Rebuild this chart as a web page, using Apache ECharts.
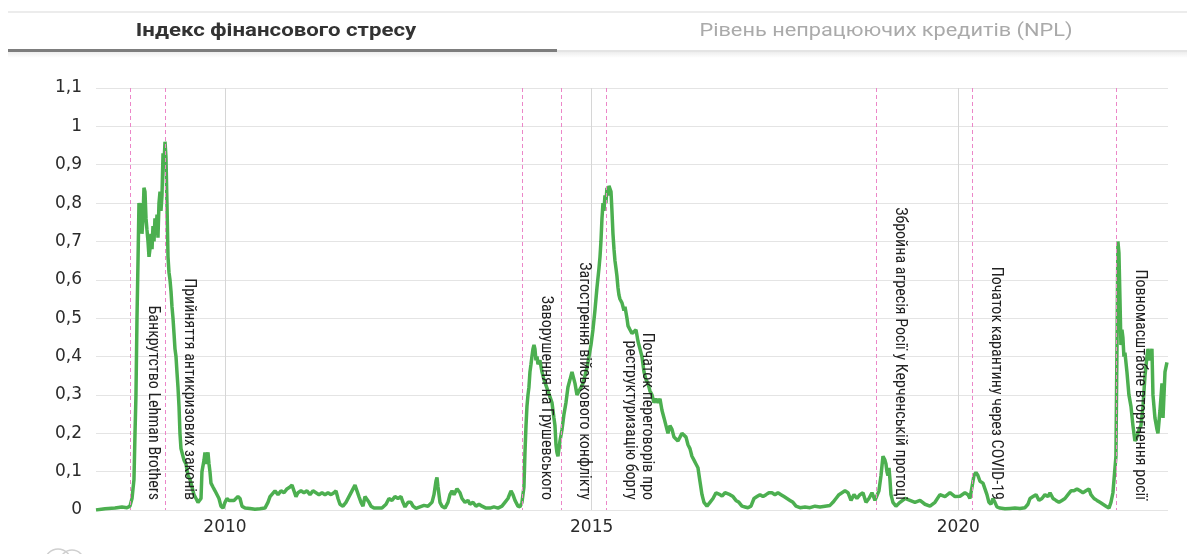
<!DOCTYPE html>
<html>
<head>
<meta charset="utf-8">
<script src="https://cdn.jsdelivr.net/npm/echarts@6/dist/echarts.min.js"></script>
<style>
html,body{margin:0;padding:0;background:#fff;}
#chart{width:1187px;height:554px;}
</style>
</head>
<body>
<div id="chart"></div>
<script>
// ---- data (decimal years, index values) ----
const dates = [
2008.241,2008.364,2008.500,2008.595,2008.664,2008.704,2008.732,2008.759,2008.773,2008.786,2008.800,2008.814,2008.827,2008.841,2008.854,2008.868,2008.882,2008.895,2008.909,2008.923,2008.936,2008.950,2008.964,2008.977,2008.991,
2009.005,2009.018,2009.032,2009.045,2009.059,2009.073,2009.086,2009.100,2009.114,2009.127,2009.141,2009.155,2009.168,2009.182,2009.195,2009.209,2009.223,2009.236,2009.250,2009.264,2009.277,2009.291,2009.305,2009.318,2009.332,2009.345,2009.359,2009.373,2009.386,2009.400,2009.414,2009.441,2009.468,2009.495,2009.523,2009.550,2009.577,2009.605,2009.632,2009.659,2009.673,2009.686,2009.714,2009.727,2009.741,2009.755,2009.768,2009.782,2009.795,2009.809,2009.836,2009.864,2009.891,2009.918,2009.945,2009.973,
2010.000,2010.027,2010.055,2010.082,2010.123,2010.150,2010.177,2010.205,2010.232,2010.273,2010.341,2010.409,2010.477,2010.545,2010.586,2010.614,2010.641,2010.682,2010.723,2010.764,2010.805,2010.845,2010.886,2010.914,2010.941,2010.968,2010.995,
2011.036,2011.077,2011.118,2011.159,2011.200,2011.241,2011.282,2011.323,2011.364,2011.405,2011.446,2011.486,2011.514,2011.541,2011.568,2011.609,2011.650,2011.691,2011.732,2011.773,2011.800,2011.827,2011.855,2011.882,2011.909,2011.936,2011.964,2011.991,
2012.032,2012.086,2012.141,2012.196,2012.236,2012.277,2012.318,2012.359,2012.400,2012.427,2012.455,2012.495,2012.536,2012.564,2012.605,2012.659,2012.714,2012.768,2012.823,2012.850,2012.877,2012.891,2012.905,2012.932,2012.959,
2013.000,2013.041,2013.068,2013.096,2013.123,2013.164,2013.205,2013.232,2013.273,2013.314,2013.341,2013.382,2013.423,2013.464,2013.505,2013.559,2013.614,2013.668,2013.723,2013.777,2013.818,2013.859,2013.900,2013.927,2013.955,2013.995,
2014.023,2014.050,2014.077,2014.091,2014.105,2014.118,2014.132,2014.145,2014.159,2014.173,2014.186,2014.200,2014.214,2014.227,2014.241,2014.255,2014.268,2014.295,2014.323,2014.350,2014.377,2014.405,2014.432,2014.459,2014.486,2014.500,2014.514,2014.527,2014.541,2014.555,2014.568,2014.596,2014.623,2014.650,2014.677,2014.705,2014.732,2014.745,2014.773,2014.800,2014.827,2014.855,2014.882,2014.909,2014.936,2014.964,2014.991,
2015.018,2015.045,2015.073,2015.100,2015.114,2015.127,2015.141,2015.155,2015.168,2015.182,2015.195,2015.209,2015.223,2015.236,2015.250,2015.264,2015.277,2015.291,2015.305,2015.318,2015.332,2015.345,2015.359,2015.373,2015.386,2015.414,2015.441,2015.455,2015.482,2015.496,2015.523,2015.550,2015.577,2015.605,2015.632,2015.659,2015.686,2015.714,2015.741,2015.768,2015.796,2015.823,2015.850,2015.877,2015.905,2015.932,2015.959,2015.987,
2016.014,2016.041,2016.068,2016.096,2016.123,2016.150,2016.177,2016.205,2016.232,2016.259,2016.287,2016.314,2016.341,2016.368,2016.396,2016.423,2016.450,2016.477,2016.505,2016.532,2016.573,2016.614,2016.655,2016.696,2016.723,2016.750,2016.778,2016.819,2016.846,2016.887,2016.928,2016.968,
2017.009,2017.050,2017.091,2017.132,2017.173,2017.214,2017.255,2017.296,2017.337,2017.378,2017.418,2017.459,2017.500,2017.541,2017.582,2017.623,2017.664,2017.705,2017.746,2017.787,2017.841,2017.910,2017.978,
2018.046,2018.114,2018.182,2018.250,2018.291,2018.332,2018.373,2018.414,2018.455,2018.496,2018.537,2018.578,2018.618,2018.659,2018.700,2018.741,2018.782,2018.823,2018.864,2018.891,2018.918,2018.946,2018.973,2018.986,
2019.000,2019.014,2019.027,2019.041,2019.055,2019.068,2019.082,2019.109,2019.150,2019.205,2019.273,2019.341,2019.409,2019.478,2019.546,2019.614,2019.682,2019.750,2019.819,2019.887,2019.955,
2020.023,2020.091,2020.132,2020.159,2020.187,2020.214,2020.241,2020.268,2020.296,2020.337,2020.364,2020.391,2020.418,2020.446,2020.473,2020.500,2020.527,2020.568,2020.637,2020.705,2020.773,2020.841,2020.910,2020.950,2020.978,
2021.019,2021.060,2021.101,2021.141,2021.182,2021.223,2021.251,2021.292,2021.332,2021.373,2021.414,2021.455,2021.496,2021.537,2021.578,2021.619,2021.660,2021.700,2021.741,2021.782,2021.809,2021.851,2021.891,2021.932,2021.973,
2022.014,2022.055,2022.082,2022.109,2022.136,2022.150,2022.164,2022.177,2022.191,2022.205,2022.218,2022.232,2022.245,2022.259,2022.273,2022.300,2022.327,2022.355,2022.382,2022.409,2022.436,2022.464,2022.491,2022.519,2022.546,2022.573,2022.587,2022.614,2022.641,2022.655,2022.682,2022.710,2022.723,2022.751,2022.778,2022.792,2022.819,2022.846
];
const stressIndex = [
0.000,0.003,0.005,0.008,0.006,0.010,0.030,0.080,0.200,0.300,0.500,0.650,0.800,0.780,0.800,0.720,0.760,0.840,0.830,0.760,0.730,0.700,0.660,0.680,0.720,
0.680,0.740,0.700,0.760,0.720,0.770,0.710,0.800,0.830,0.780,0.820,0.930,0.900,0.960,0.920,0.800,0.660,0.620,0.600,0.570,0.530,0.500,0.460,0.420,0.400,0.360,0.320,0.270,0.200,0.160,0.150,0.130,0.120,0.090,0.080,0.060,0.040,0.030,0.020,0.015,0.030,0.100,0.130,0.150,0.120,0.140,0.150,0.120,0.100,0.070,0.060,0.050,0.045,0.030,0.010,0.005,
0.020,0.030,0.025,0.030,0.025,0.030,0.035,0.030,0.010,0.005,0.004,0.002,0.003,0.005,0.020,0.035,0.040,0.050,0.040,0.050,0.045,0.055,0.060,0.065,0.050,0.035,0.045,
0.050,0.045,0.050,0.040,0.050,0.045,0.040,0.045,0.040,0.045,0.040,0.045,0.050,0.030,0.015,0.010,0.020,0.035,0.050,0.065,0.050,0.035,0.020,0.010,0.035,0.040,0.020,0.010,
0.005,0.005,0.005,0.015,0.030,0.025,0.035,0.030,0.035,0.020,0.008,0.020,0.020,0.010,0.004,0.008,0.012,0.010,0.020,0.040,0.075,0.085,0.060,0.020,0.010,
0.005,0.020,0.040,0.050,0.040,0.055,0.045,0.030,0.020,0.025,0.015,0.020,0.010,0.015,0.010,0.005,0.005,0.008,0.005,0.010,0.020,0.030,0.050,0.040,0.025,0.010,
0.008,0.020,0.060,0.150,0.220,0.270,0.300,0.320,0.360,0.380,0.400,0.420,0.430,0.420,0.390,0.400,0.380,0.390,0.360,0.340,0.340,0.310,0.310,0.280,0.240,0.220,0.170,0.150,0.140,0.160,0.180,0.210,0.250,0.280,0.320,0.340,0.360,0.355,0.330,0.300,0.310,0.320,0.330,0.350,0.370,0.400,0.430,
0.470,0.520,0.580,0.630,0.660,0.700,0.760,0.800,0.780,0.820,0.800,0.840,0.820,0.845,0.850,0.830,0.780,0.720,0.680,0.650,0.630,0.610,0.580,0.560,0.550,0.540,0.520,0.530,0.500,0.480,0.470,0.460,0.460,0.470,0.440,0.420,0.400,0.360,0.340,0.330,0.310,0.300,0.280,0.290,0.280,0.290,0.260,0.240,
0.220,0.200,0.220,0.210,0.190,0.190,0.180,0.190,0.200,0.205,0.190,0.170,0.160,0.140,0.130,0.120,0.110,0.075,0.040,0.020,0.010,0.020,0.030,0.045,0.050,0.040,0.036,0.045,0.050,0.040,0.035,0.025,
0.020,0.010,0.008,0.006,0.010,0.030,0.035,0.040,0.035,0.040,0.045,0.045,0.040,0.045,0.040,0.035,0.030,0.025,0.020,0.010,0.006,0.008,0.006,
0.010,0.008,0.010,0.012,0.020,0.030,0.040,0.045,0.050,0.045,0.025,0.040,0.030,0.040,0.045,0.020,0.030,0.045,0.025,0.020,0.050,0.090,0.140,0.145,
0.130,0.120,0.100,0.090,0.110,0.080,0.040,0.020,0.010,0.020,0.030,0.025,0.020,0.025,0.015,0.010,0.020,0.040,0.035,0.045,0.035,
0.036,0.045,0.040,0.030,0.060,0.090,0.098,0.090,0.075,0.070,0.055,0.040,0.020,0.015,0.030,0.020,0.008,0.005,0.003,0.004,0.005,0.004,0.006,0.015,0.030,
0.035,0.040,0.025,0.030,0.040,0.035,0.045,0.030,0.025,0.020,0.025,0.030,0.040,0.050,0.050,0.055,0.050,0.045,0.050,0.055,0.040,0.030,0.025,0.020,0.015,
0.010,0.005,0.020,0.045,0.050,0.140,0.420,0.700,0.670,0.550,0.430,0.470,0.450,0.400,0.410,0.360,0.300,0.270,0.220,0.180,0.190,0.210,0.220,0.270,0.350,0.400,0.420,0.390,0.420,0.300,0.240,0.210,0.200,0.260,0.330,0.240,0.360,0.385
];
const eventDates = [2008.704, 2009.182, 2014.060, 2014.582, 2015.196, 2018.887, 2020.196, 2022.160];
const eventLabels = [
  'Банкрутство Lehman Brothers',
  'Прийняття антикризових законів',
  'Заворушення на Грушевського',
  'Загострення військового конфлікту',
  'Початок переговорів про\nреструктуризацію боргу',
  'Збройна агресія Росії у Керченській протоці',
  'Початок карантину через COVID-19',
  'Повномасштабне вторгнення росії'
];
const yearTicks = [2010, 2015, 2020];
const tabLabels = ['Індекс фінансового стресу', 'Рівень непрацюючих кредитів (NPL)'];

const seriesData = dates.map((d, i) => [d, stressIndex[i]]);
const eventLines = eventDates.map((d, i) => [
  { coord: [d, 1.1], label: { formatter: eventLabels[i] } },
  { coord: [d, 0] }
]);

const chart = echarts.init(document.getElementById('chart'), null, { renderer: 'canvas' });
chart.setOption({
  animation: false,
  backgroundColor: '#ffffff',
  grid: { left: 96, right: 19, top: 88, bottom: 44, containLabel: false },
  xAxis: {
    type: 'value',
    min: 2008.241,
    max: 2022.86,
    axisLine: { show: false },
    axisTick: { show: false, customValues: yearTicks },
    axisLabel: {
      customValues: yearTicks,
      color: '#2b2b2b', fontSize: 17, margin: 9,
      fontFamily: '"DejaVu Sans", sans-serif',
      formatter: v => String(Math.round(v))
    },
    splitLine: { show: true, lineStyle: { color: '#d6d6d6', width: 1 } }
  },
  yAxis: {
    type: 'value',
    min: 0, max: 1.1, interval: 0.1,
    axisLine: { show: false },
    axisTick: { show: false },
    axisLabel: {
      color: '#2b2b2b', fontSize: 17, margin: 14,
      fontFamily: '"DejaVu Sans", sans-serif',
      formatter: v => String(Number(v.toFixed(1))).replace('.', ',')
    },
    splitLine: { lineStyle: { color: '#e4e4e4', width: 1 } }
  },
  series: [{
    type: 'line',
    data: seriesData,
    showSymbol: false,
    symbol: 'none',
    lineStyle: { color: '#4caf50', width: 3.5 },
    z: 3,
    markLine: {
      silent: true,
      symbol: ['none', 'none'],
      lineStyle: { color: '#ec86c8', type: [4, 3], width: 1 },
      label: {
        show: true,
        position: 'insideEndTop',
        distance: [10, 15],
        color: '#222',
        fontSize: 16,
        lineHeight: 17,
        fontFamily: '"Liberation Sans Narrow", "Roboto Condensed", Roboto, sans-serif'
      },
      data: eventLines
    }
  }],
  graphic: [
    { type: 'rect', left: 8, top: 11, shape: { width: 1179, height: 2 }, style: { fill: '#ececec' }, silent: true },
    { type: 'rect', left: 8, top: 52, shape: { width: 1179, height: 6 },
      style: { fill: new echarts.graphic.LinearGradient(0, 0, 0, 1, [{ offset: 0, color: 'rgba(0,0,0,0.07)' }, { offset: 1, color: 'rgba(0,0,0,0)' }]) }, silent: true },
    { type: 'rect', left: 557, top: 50, shape: { width: 630, height: 2 }, style: { fill: '#e4e4e4' }, silent: true },
    { type: 'rect', left: 8, top: 49, shape: { width: 549, height: 3 }, style: { fill: '#7d7d7d' }, silent: true },
    { type: 'text', x: 276, y: 31, scaleX: 1.17, style: { text: tabLabels[0], fill: '#333', font: 'bold 19px Roboto, sans-serif', textAlign: 'center', textVerticalAlign: 'middle' }, silent: true },
    { type: 'text', x: 886, y: 31, scaleX: 1.145, style: { text: tabLabels[1], fill: '#aaaaaa', font: '19px Roboto, sans-serif', textAlign: 'center', textVerticalAlign: 'middle' }, silent: true },
    { type: 'circle', shape: { cx: 58, cy: 562, r: 13 }, style: { fill: 'none', stroke: '#cfcfcf', lineWidth: 1.5 }, silent: true },
    { type: 'circle', shape: { cx: 72, cy: 562, r: 12 }, style: { fill: 'none', stroke: '#cfcfcf', lineWidth: 1.5 }, silent: true }
  ]
});
</script>
</body>
</html>
